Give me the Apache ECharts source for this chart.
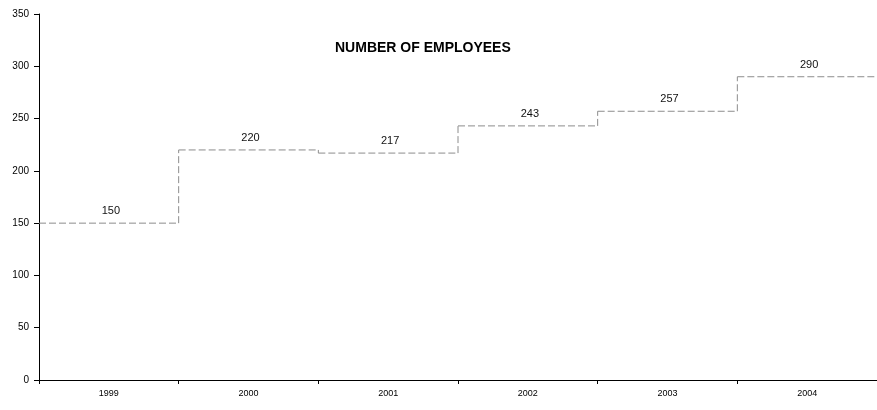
<!DOCTYPE html>
<html>
<head>
<meta charset="utf-8">
<script src="https://cdn.jsdelivr.net/npm/echarts@6/dist/echarts.min.js"></script>
<style>
  html, body { margin: 0; padding: 0; background: #fff; }
  #chart { width: 877px; height: 410px; }
</style>
</head>
<body>
<div id="chart"></div>
<script>
// 数据
var years = ['1999', '2000', '2001', '2002', '2003', '2004'];
var employees = [150, 220, 217, 243, 257, 290];
var yTicks = [0, 50, 100, 150, 200, 250, 300, 350];

var chart = echarts.init(document.getElementById('chart'));

// 阶梯线：每个类别画一条横线，并在左边界连接上一个值
function renderStep(params, api) {
  var idx = api.value(0);
  var val = api.value(1);
  var pt = api.coord([idx, val]);
  var w = api.size([1, 0])[0];
  var x0 = pt[0] - w / 2, x1 = pt[0] + w / 2;
  var lineStyle = { stroke: '#8c8c8c', lineWidth: 1, lineDash: [7, 3] };
  var children = [{
    type: 'line',
    shape: { x1: x0, y1: pt[1], x2: x1, y2: pt[1] },
    style: lineStyle
  }];
  if (idx > 0) {
    var prev = api.coord([idx - 1, employees[idx - 1]]);
    children.push({
      type: 'line',
      shape: { x1: x0, y1: prev[1], x2: x0, y2: pt[1] },
      style: lineStyle
    });
  }
  children.push({
    type: 'text',
    style: {
      text: String(val), x: pt[0] + 2, y: pt[1] - 12,
      align: 'center', verticalAlign: 'middle',
      textAlign: 'center', textVerticalAlign: 'middle',
      font: '11px Arial', fill: '#111'
    }
  });
  return { type: 'group', children: children };
}

option = {
  animation: false,
  backgroundColor: '#fff',
  title: {
    text: 'NUMBER OF EMPLOYEES',
    left: 330,
    top: 36,
    textStyle: { fontFamily: 'Arial', fontSize: 14, fontWeight: 'bold', color: '#000' }
  },
  grid: { left: 39, right: -7, top: 14, bottom: 30 },
  xAxis: {
    type: 'category',
    data: years,
    axisLine: { lineStyle: { color: '#000', width: 1 } },
    axisTick: { show: true, length: 4, lineStyle: { color: '#000' } },
    axisLabel: { color: '#000', fontFamily: 'Arial', fontSize: 9, margin: 9 }
  },
  yAxis: {
    type: 'value',
    min: yTicks[0],
    max: yTicks[yTicks.length - 1],
    interval: 50,
    splitLine: { show: false },
    axisLine: { show: true, lineStyle: { color: '#000', width: 1 } },
    axisTick: { show: true, length: 5, lineStyle: { color: '#000' } },
    axisLabel: { color: '#000', fontFamily: 'Arial', fontSize: 10, margin: 10 }
  },
  series: [{
    type: 'custom',
    renderItem: renderStep,
    encode: { x: 0, y: 1 },
    data: years.map(function (y, i) { return [i, employees[i]]; })
  }]
};

chart.setOption(option);
</script>
</body>
</html>
